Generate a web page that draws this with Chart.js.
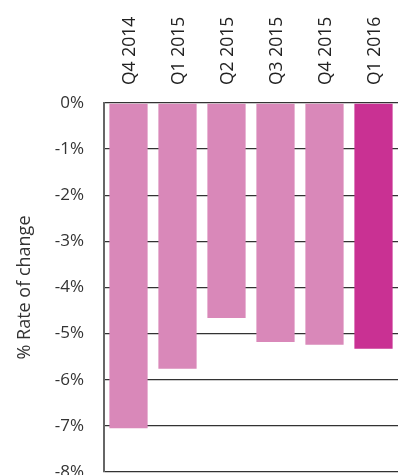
<!DOCTYPE html>
<html><head><meta charset="utf-8">
<script src="https://cdn.jsdelivr.net/npm/chart.js@4"></script>
<style>html,body{margin:0;padding:0;background:#fff}#wrap{width:398px;height:475px}</style>
</head><body><div id="wrap"><canvas id="c"></canvas></div>
<script>
const categories = ["Q4 2014","Q1 2015","Q2 2015","Q3 2015","Q4 2015","Q1 2016"];
const values = [-7.05, -5.76, -4.66, -5.18, -5.24, -5.33];
const barColors = ["#d988b9","#d988b9","#d988b9","#d988b9","#d988b9","#c93193"];
const yTitle = "% Rate of change";

Chart.defaults.font.family = "'Open Sans', 'Noto Sans', sans-serif";
Chart.defaults.color = "#333";

new Chart(document.getElementById('c'), {
  type: 'bar',
  data: { labels: categories, datasets: [{ data: values, backgroundColor: barColors, categoryPercentage: 0.78, barPercentage: 1 }] },
  options: {
    responsive: true, maintainAspectRatio: false, animation: false,
    layout: { padding: 0 },
    plugins: { legend: { display: false }, tooltip: { enabled: false } },
    scales: {
      x: {
        position: 'top',
        grid: { display: false },
        border: { display: false },
        ticks: { maxRotation: 90, minRotation: 90, padding: 10, labelOffset: 23, font: { size: 17.5 }, color: '#222' },
        afterFit: s => { s.height = 103; }
      },
      y: {
        min: -8, max: 0,
        grid: { color: '#333', lineWidth: 1.3, drawTicks: false },
        border: { display: true, color: '#666', width: 2 },
        ticks: { stepSize: 1, padding: 20, font: { size: 17 }, color: '#333', callback: v => v + '%' },
        title: { display: true, text: yTitle, font: { size: 18 }, color: '#333', padding: { top: 14, bottom: 0 } },
        afterFit: s => { s.width = 104; s.paddingTop = 0; s.paddingBottom = 3; }
      }
    }
  }
});
</script></body></html>
